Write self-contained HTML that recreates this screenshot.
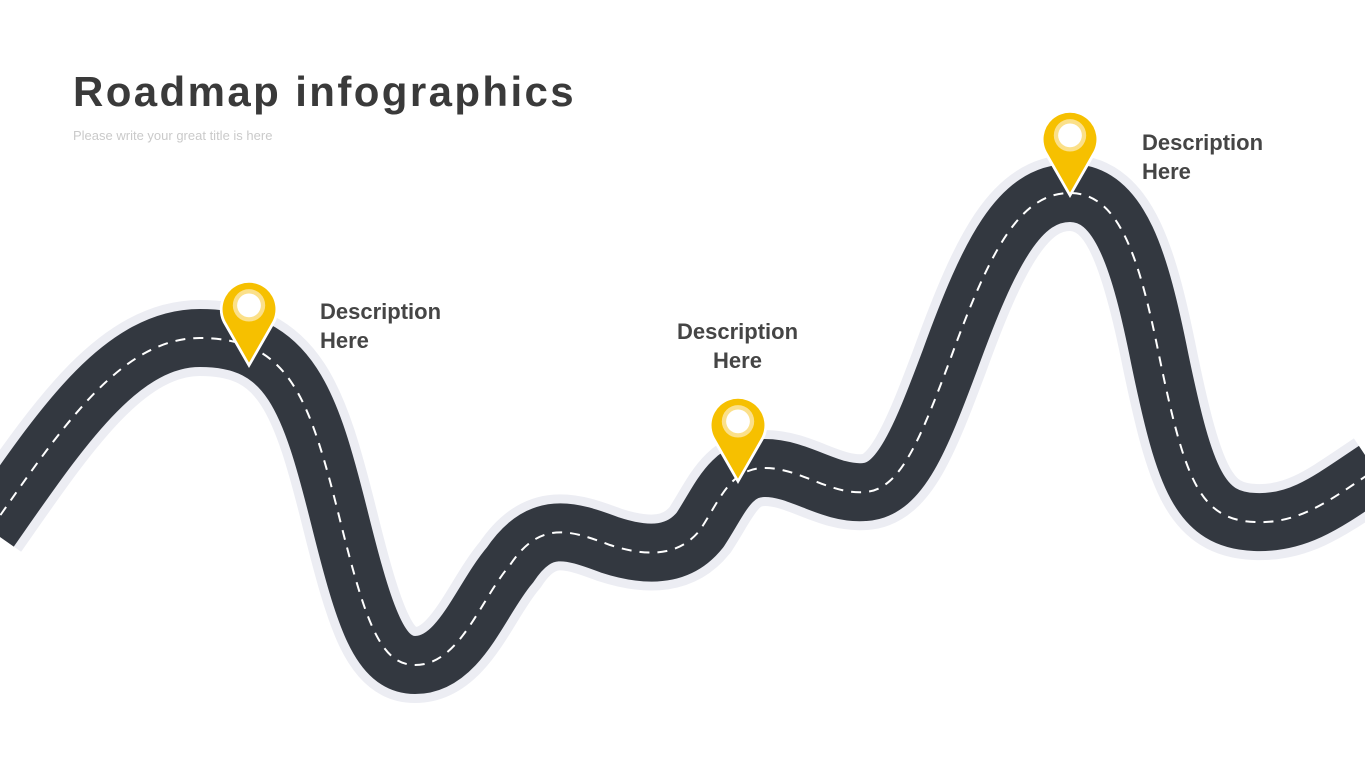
<!DOCTYPE html>
<html><head><style>
body{margin:0;width:1365px;height:768px;background:#fff;position:relative;overflow:hidden;font-family:"Liberation Sans",sans-serif}
.t{position:absolute;left:73px;top:68px;font-size:42px;font-weight:bold;color:#3a3a3a;letter-spacing:2.4px}
.s{position:absolute;left:73px;top:128px;font-size:13px;color:#cacaca}
.d{position:absolute;font-size:22px;font-weight:bold;color:#454545;line-height:29px}
</style></head><body>
<svg width="1365" height="768" style="position:absolute;left:0;top:0">
<defs>
<g id="pin"><path d="M0 0 L-23 -40 A27 27 0 1 1 23 -40 Z" fill="#fff"/>
<path d="M0 -5 L-20.5 -41 A24.5 24.5 0 1 1 20.5 -41 Z" fill="#f6c000"/>
<circle cx="0" cy="-58" r="15" fill="#fbe08a"/><circle cx="0" cy="-58" r="11" fill="#fff"/></g>
<path id="rd" d="M-10 530 C60 430,120 338,200 338 C290 338,310 400,340 520 C365 620,380 665,415 665 C460 665,480 600,510 565 C540 520,570 530,610 545 C650 558,680 555,700 530 C720 500,730 468,765 468 C800 468,830 495,865 492 C900 490,920 440,950 360 C990 250,1020 193,1070 193 C1120 193,1140 260,1160 360 C1185 480,1200 520,1255 522 C1300 524,1330 500,1375 470" fill="none"/>
</defs>
<use href="#rd" stroke="#ecedf3" stroke-width="76"/>
<use href="#rd" stroke="#333840" stroke-width="58"/>
<use href="#rd" stroke="#fff" stroke-width="2" stroke-dasharray="10 8"/>
<g transform="translate(249 368) scale(1.08)"><use href="#pin"/></g>
<g transform="translate(738 484) scale(1.08)"><use href="#pin"/></g>
<g transform="translate(1070 198) scale(1.08)"><use href="#pin"/></g>
</svg>
<div class="t">Roadmap infographics</div>
<div class="s">Please write your great title is here</div>
<div class="d" style="left:320px;top:297px">Description<br>Here</div>
<div class="d" style="left:677px;top:317px;text-align:center">Description<br>Here</div>
<div class="d" style="left:1142px;top:128px">Description<br>Here</div>
</body></html>
